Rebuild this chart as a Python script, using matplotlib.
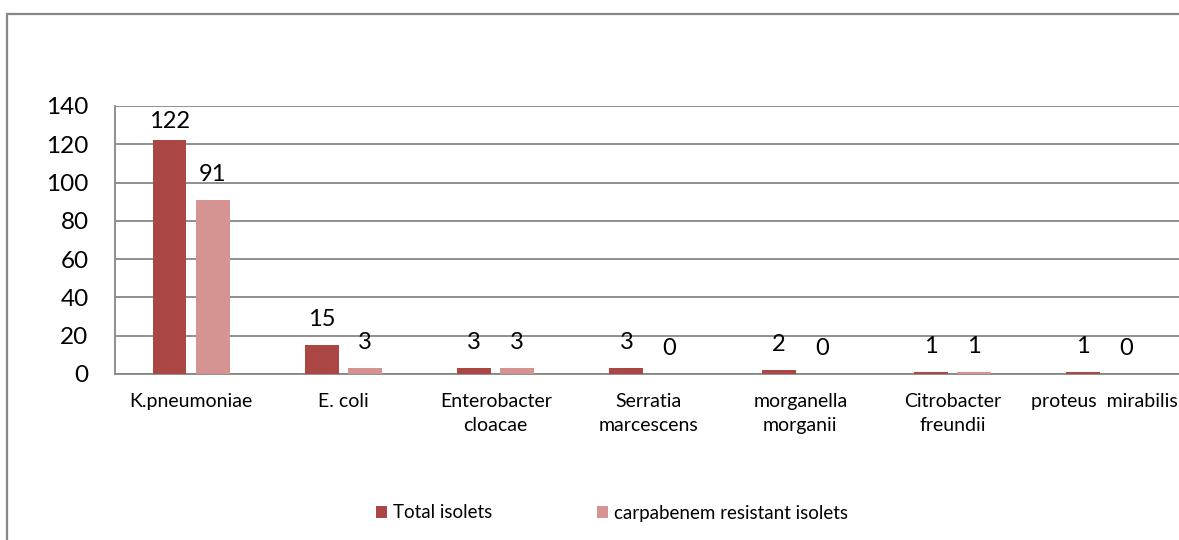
import matplotlib.pyplot as plt
import numpy as np
from matplotlib.patches import Rectangle

categories = [
    "K.pneumoniae",
    "E. coli",
    "Enterobacter\ncloacae",
    "Serratia\nmarcescens",
    "morganella\nmorganii",
    "Citrobacter\nfreundii",
    "proteus  mirabilis",
]
total_isolates = [122, 15, 3, 3, 2, 1, 1]
resistant_isolates = [91, 3, 3, 0, 0, 1, 0]
series_names = ["Total isolets", "carpabenem resistant isolets"]

DARK = "#AA4643"
LIGHT = "#D59392"
GRID = "#878787"

plt.rcParams["font.family"] = ["Lato", "DejaVu Sans"]

fig = plt.figure(figsize=(11.79, 5.40), dpi=100)

# outer chart frame (cut off at right and bottom like the source)
fig.patches.append(
    Rectangle((7 / 1179, -0.1), 1.2, 1 - 13.5 / 540 + 0.1,
              transform=fig.transFigure, fill=False, edgecolor=GRID, linewidth=1.6)
)

ax = fig.add_axes([115 / 1179, 1 - 374 / 540, 1066 / 1179, 268 / 540])

x = np.arange(len(categories))
w = 0.223
off = 0.142
ax.bar(x - off, total_isolates, w, color=DARK, label=series_names[0], zorder=3)
ax.bar(x + off, resistant_isolates, w, color=LIGHT, label=series_names[1], zorder=3)

# data labels, pushed down when they would leave the plot area
for xs, vals in ((x - off, total_isolates), (x + off, resistant_isolates)):
    for xi, v in zip(xs, vals):
        ax.text(xi, min(v + 10.0, 128.5), str(v), ha="center", va="baseline",
                fontsize=17, color="black", zorder=4)

ax.set_xlim(-0.5, len(categories) - 0.5)
ax.set_ylim(0, 140)
ax.set_yticks(np.arange(0, 141, 20))
ax.yaxis.grid(True, color=GRID, linewidth=1.3, zorder=0)
ax.set_axisbelow(True)
ax.set_xticks(x)
ax.set_xticklabels(categories, fontsize=14, linespacing=1.45)
ax.tick_params(axis="y", length=0, pad=19, labelsize=17.5)
ax.tick_params(axis="x", length=0, pad=14)
for s in ("top", "right"):
    ax.spines[s].set_visible(False)
for s in ("left", "bottom"):
    ax.spines[s].set_color(GRID)
    ax.spines[s].set_linewidth(1.3)

fig.legend(loc="center", bbox_to_anchor=(612 / 1179, 1 - 513 / 540), ncol=2,
           frameon=False, fontsize=13.5, handlelength=0.6, handleheight=0.6,
           handletextpad=0.3, columnspacing=5.6)

fig.savefig("out.png", dpi=100)
